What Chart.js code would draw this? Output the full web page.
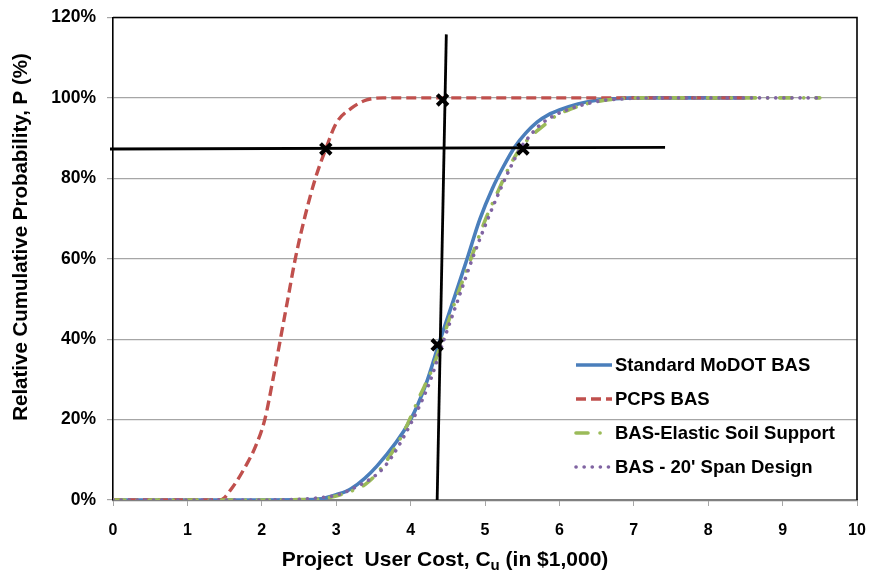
<!DOCTYPE html>
<html>
<head>
<meta charset="utf-8">
<script src="https://cdn.jsdelivr.net/npm/chart.js@4.4.1/dist/chart.umd.min.js"></script>
<style>
    html, body { margin: 0; padding: 0; background: #fff; }
    #wrap { width: 873px; height: 574px; }
</style>
</head>
<body>
<div id="wrap"><canvas id="cdf_chart_id"></canvas></div>
<script>
// values (x = cost in $1,000, y = cumulative %)
const standardX = [0, 0.5, 1, 1.5, 2, 2.5, 2.8, 3.0, 3.2, 3.55, 4.0, 4.2, 4.4, 4.6, 4.76, 4.93, 5.1, 5.25, 5.4, 5.55, 5.7, 5.85, 6.0, 6.25, 6.5, 6.75, 7.0, 7.5, 8.0, 8.5];
const standardP = [0, 0, 0, 0, 0, 0.05, 0.3, 1.3, 2.8, 8.5, 20, 28.5, 40, 51, 60, 69.8, 77.5, 83, 87.8, 91.3, 94, 95.8, 97, 98.5, 99.4, 99.8, 100, 100, 100, 100];

const pcpsX = [0, 0.5, 1, 1.44, 1.6, 1.8, 1.92, 2.04, 2.15, 2.25, 2.35, 2.45, 2.58, 2.72, 2.86, 3.0, 3.2, 3.41, 3.63, 4, 5, 6, 7, 8, 8.5];
const pcpsP = [0, 0, 0, 0, 3, 9, 13.5, 20, 30, 40, 50, 60, 70.5, 80, 87.3, 93.7, 97.4, 99.5, 100, 100, 100, 100, 100, 100, 100];

const elasticX = [0, 0.5, 1, 1.5, 2, 2.5, 2.8, 3.0, 3.2, 3.4, 3.6, 3.9, 4.12, 4.3, 4.43, 4.62, 4.81, 5.0, 5.18, 5.33, 5.47, 5.62, 5.8, 5.95, 6.15, 6.4, 6.7, 7.0, 7.5, 8, 8.5, 9, 9.5];
const elasticP = [0, 0, 0, 0, 0, 0.1, 0.3, 1.0, 2.2, 4.0, 7.8, 16.6, 25.7, 33, 40, 50.5, 60, 69.5, 77, 83, 87.3, 90.5, 93.3, 95.5, 97.2, 98.7, 99.6, 100, 100, 100, 100, 100, 100];

const spanX = [0, 0.5, 1, 1.5, 2, 2.5, 2.8, 3.0, 3.23, 3.65, 4.03, 4.25, 4.45, 4.65, 4.83, 5.04, 5.2, 5.35, 5.47, 5.6, 5.74, 5.9, 6.1, 6.3, 6.6, 6.9, 7.2, 7.5, 8, 8.5, 9, 9.5];
const spanP = [0, 0, 0, 0, 0, 0.2, 0.6, 1.2, 2.9, 8.3, 20, 29, 40, 50.5, 60, 70, 77, 83, 87.3, 90.5, 93.3, 95.3, 97, 98.2, 99.4, 99.8, 100, 100, 100, 100, 100, 100];

// black construction lines and the X marks
const hLineX = [-0.04, 7.42];
const hLineP = [87.3, 87.7];
const vLineX = [4.357, 4.48];
const vLineP = [0, 115.8];
const markX = [2.86, 4.43, 5.51, 4.357];
const markP = [87.3, 99.5, 87.3, 38.6];

const xTicks = [0, 1, 2, 3, 4, 5, 6, 7, 8, 9, 10];
const yTicks = [0, 20, 40, 60, 80, 100, 120];

const COLORS = {
    BLUE: '#4A7EBB',
    RED: '#C0504D',
    GREEN: '#9BBB59',
    PURPLE: '#8064A2',
    BLACK: '#000000',
    GRID: '#a6a6a6',
    AXIS: '#808080'
};
const FONT = '"Liberation Sans", Arial, sans-serif';

const toPoints = (xs, ys) => xs.map((x, i) => ({ x: x, y: ys[i] }));

const SERIES = [
    { label: 'Standard MoDOT BAS', xs: standardX, ys: standardP, color: COLORS.BLUE, width: 3.6, dash: [], cap: 'butt', order: 5 },
    { label: 'PCPS BAS', xs: pcpsX, ys: pcpsP, color: COLORS.RED, width: 3.4, dash: [10, 5], cap: 'butt', order: 4 },
    { label: 'BAS-Elastic Soil Support', xs: elasticX, ys: elasticP, color: COLORS.GREEN, width: 3.6, dash: [12, 12, 0.1, 12], cap: 'round', order: 3 },
    { label: "BAS - 20' Span Design", xs: spanX, ys: spanP, color: COLORS.PURPLE, width: 3.6, dash: [0.1, 8], cap: 'round', order: 2 }
];

const whiteBackground = {
    id: 'whiteBackground',
    beforeDraw: (chart) => {
        const ctx = chart.ctx;
        ctx.save();
        ctx.fillStyle = '#fff';
        ctx.fillRect(0, 0, chart.width, chart.height);
        ctx.restore();
    }
};

// top and right edges of the plot frame
const plotFrame = {
    id: 'plotFrame',
    beforeDatasetsDraw: (chart) => {
        const a = chart.chartArea;
        const ctx = chart.ctx;
        ctx.save();
        ctx.strokeStyle = COLORS.BLACK;
        ctx.lineWidth = 1.6;
        ctx.beginPath();
        ctx.moveTo(a.left, a.top);
        ctx.lineTo(a.right, a.top);
        ctx.lineTo(a.right, a.bottom);
        ctx.stroke();
        ctx.restore();
    }
};

const axisTitles = {
    id: 'axisTitles',
    afterDraw: (chart) => {
        const a = chart.chartArea;
        const ctx = chart.ctx;
        ctx.save();
        ctx.fillStyle = COLORS.BLACK;

        // x title with subscript u
        const big = 'bold 21px ' + FONT;
        const small = 'bold 15px ' + FONT;
        const p1 = 'Project  User Cost, C', p2 = 'u', p3 = ' (in $1,000)';
        ctx.font = big;
        const w1 = ctx.measureText(p1).width, w3 = ctx.measureText(p3).width;
        ctx.font = small;
        const w2 = ctx.measureText(p2).width;
        let x = (a.left + a.right) / 2 - 40 - (w1 + w2 + w3) / 2;
        const base = 566;
        ctx.textBaseline = 'alphabetic';
        ctx.textAlign = 'left';
        ctx.font = big;
        ctx.fillText(p1, x, base);
        x += w1;
        ctx.font = small;
        ctx.fillText(p2, x, base + 4);
        x += w2;
        ctx.font = big;
        ctx.fillText(p3, x, base);

        // y title
        ctx.translate(21, 237);
        ctx.rotate(-Math.PI / 2);
        ctx.textAlign = 'center';
        ctx.textBaseline = 'middle';
        ctx.font = 'bold 20.5px ' + FONT;
        ctx.fillText('Relative Cumulative Probability, P (%)', 0, 0);
        ctx.restore();
    }
};

// legend drawn inside the plot, using each dataset's own line style
const insideLegend = {
    id: 'insideLegend',
    afterDraw: (chart) => {
        const ctx = chart.ctx;
        ctx.save();
        ctx.font = 'bold 18.5px ' + FONT;
        ctx.textBaseline = 'middle';
        ctx.textAlign = 'left';
        SERIES.forEach((s, i) => {
            const y = 365 + i * 34;
            ctx.strokeStyle = s.color;
            ctx.lineWidth = s.width;
            ctx.lineCap = s.cap;
            ctx.setLineDash(s.dash);
            ctx.beginPath();
            ctx.moveTo(576, y);
            ctx.lineTo(612, y);
            ctx.stroke();
            ctx.setLineDash([]);
            ctx.fillStyle = COLORS.BLACK;
            ctx.fillText(s.label, 615, y + 1);
        });
        ctx.restore();
    }
};

const getCdfChartConfig = () => {
    const curveSets = SERIES.map((s) => ({
        label: s.label,
        data: toPoints(s.xs, s.ys),
        borderColor: s.color,
        backgroundColor: s.color,
        borderWidth: s.width,
        borderDash: s.dash,
        borderCapStyle: s.cap,
        cubicInterpolationMode: 'monotone',
        pointRadius: 0,
        fill: false,
        order: s.order
    }));

    return {
        type: 'line',
        data: {
            datasets: [
                ...curveSets,
                {
                    label: 'horizontal',
                    data: toPoints(hLineX, hLineP),
                    borderColor: COLORS.BLACK,
                    borderWidth: 2.8,
                    pointRadius: 0,
                    clip: false,
                    order: 1
                },
                {
                    label: 'vertical',
                    data: toPoints(vLineX, vLineP),
                    borderColor: COLORS.BLACK,
                    borderWidth: 2.8,
                    pointRadius: 0,
                    clip: false,
                    order: 1
                },
                {
                    label: 'marks',
                    data: toPoints(markX, markP),
                    showLine: false,
                    pointStyle: 'crossRot',
                    pointRadius: 7.5,
                    borderColor: COLORS.BLACK,
                    pointBorderWidth: 4,
                    order: 0
                }
            ]
        },
        options: {
            responsive: true,
            maintainAspectRatio: false,
            animation: false,
            layout: { padding: { top: 17.5, right: 16, left: 0, bottom: 0 } },
            plugins: {
                legend: { display: false },
                tooltip: { enabled: false },
                title: { display: false }
            },
            scales: {
                x: {
                    type: 'linear',
                    min: 0,
                    max: 10,
                    afterFit: (scale) => {
                        scale.height = 74;
                        scale.paddingLeft = 0;
                        scale.paddingRight = 0;
                    },
                    afterBuildTicks: (scale) => { scale.ticks = xTicks.map(v => ({ value: v })); },
                    ticks: {
                        color: COLORS.BLACK,
                        padding: 15,
                        font: { family: FONT, size: 16, weight: 'bold' }
                    },
                    grid: {
                        drawOnChartArea: false,
                        drawTicks: true,
                        tickLength: 6,
                        color: COLORS.GRID
                    },
                    border: { display: true, color: COLORS.AXIS, width: 2.2 },
                    title: { display: false }
                },
                y: {
                    min: 0,
                    max: 120,
                    afterFit: (scale) => {
                        scale.width = 113;
                        scale.paddingTop = 0;
                        scale.paddingBottom = 0;
                    },
                    afterBuildTicks: (scale) => { scale.ticks = yTicks.map(v => ({ value: v })); },
                    ticks: {
                        color: COLORS.BLACK,
                        padding: 11,
                        font: { family: FONT, size: 17.5, weight: 'bold' },
                        callback: (value) => value + '%'
                    },
                    grid: {
                        color: COLORS.GRID,
                        lineWidth: 1.2,
                        tickLength: 6
                    },
                    border: { display: true, color: COLORS.BLACK, width: 1.6 },
                    title: { display: false }
                }
            }
        },
        plugins: [whiteBackground, plotFrame, axisTitles, insideLegend]
    };
};

const attachChartToDomId = (id, config) => {
    const ctx = document.getElementById(id);
    return new Chart(ctx, config);
};

attachChartToDomId('cdf_chart_id', getCdfChartConfig());
</script>
</body>
</html>
